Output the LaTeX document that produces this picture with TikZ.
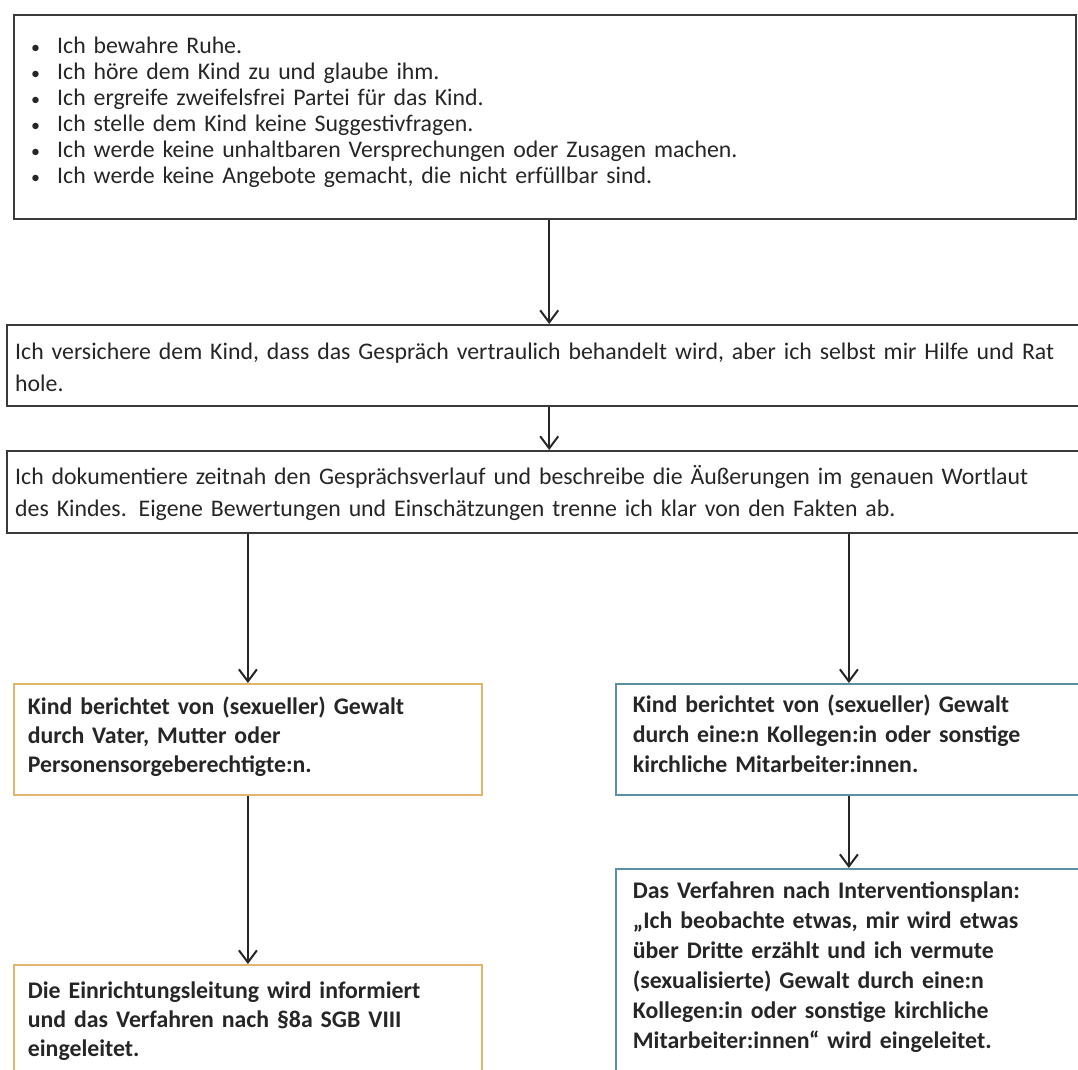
\documentclass[tikz,border=0pt]{standalone}
\usepackage{fontspec}
\setmainfont{Carlito}
\usepackage{xcolor}
\usetikzlibrary{arrows.meta}

\definecolor{framegray}{HTML}{3A3A3A}
\definecolor{inkgray}{HTML}{262626}
\definecolor{famorange}{HTML}{E2B56A}
\definecolor{staffteal}{HTML}{5C8FA0}

\begin{document}
\begin{tikzpicture}[
      x=0.5pt, y=-0.5pt,
      box/.style={draw=framegray, line width=1.2pt, fill=white, anchor=north west, align=left, inner ysep=0pt, text=inkgray},
      bullets/.style={box, font=\fontsize{11.9}{13}\selectfont, inner xsep=8.5pt, text width=514pt},
      plain/.style={box, font=\fontsize{11.9}{16}\selectfont, inner xsep=4pt, text width=534pt},
      family/.style={box, draw=famorange, line width=0.9pt, font=\fontsize{11.9}{14.5}\selectfont\bfseries, inner xsep=7pt, text width=220pt},
      staff/.style={box, draw=staffteal, line width=0.9pt, font=\fontsize{11.9}{15}\selectfont\bfseries, inner xsep=8.5pt, text width=216pt},
      arrow/.style={draw=inkgray, line width=1pt, -{Straight Barb[length=6pt, width=9pt]}}
    ]
    \path[use as bounding box, clip] (0,0) rectangle (1078,1070);
    \fill[white] (0,0) rectangle (1078,1070);

    % upper column
    \node[bullets, text height=19pt, text depth=83pt] (calm) at (13,14) {%
      \makebox[13pt][l]{\small\textbullet}Ich bewahre Ruhe.\\
      \makebox[13pt][l]{\small\textbullet}Ich höre dem Kind zu und glaube ihm.\\
      \makebox[13pt][l]{\small\textbullet}Ich ergreife zweifelsfrei Partei für das Kind.\\
      \makebox[13pt][l]{\small\textbullet}Ich stelle dem Kind keine Suggestivfragen.\\
      \makebox[13pt][l]{\small\textbullet}Ich werde keine unhaltbaren Versprechungen oder Zusagen machen.\\
      \makebox[13pt][l]{\small\textbullet}Ich werde keine Angebote gemacht, die nicht erfüllbar sind.};
    \node[plain, text height=17pt, text depth=23.5pt] (promise) at (6,324)
      {Ich versichere dem Kind, dass das Gespräch vertraulich behandelt wird, aber ich selbst mir Hilfe und Rat\\hole.};
    \node[plain, text height=16.5pt, text depth=24.5pt] (record) at (6,450)
      {Ich dokumentiere zeitnah den Gesprächsverlauf und beschreibe die Äußerungen im genauen Wortlaut\\des Kindes. Eigene Bewertungen und Einschätzungen trenne ich klar von den Fakten ab.};

    % two branches
    \node[family, text height=15.5pt, text depth=40pt] (family) at (13,683)
      {Kind berichtet von (sexueller) Gewalt\\durch Vater, Mutter oder\\Personensorgeberechtigte:n.};
    \node[family, text height=17pt, text depth=60pt] (leader) at (13,964)
      {Die Einrichtungsleitung wird informiert\\und das Verfahren nach §8a SGB VIII\\eingeleitet.};
    \node[staff, text height=14.5pt, text depth=41pt] (staff) at (615,683)
      {Kind berichtet von (sexueller) Gewalt\\durch eine:n Kollegen:in oder sonstige\\kirchliche Mitarbeiter:innen.};
    \node[staff, text height=15pt, text depth=100pt] (plan) at (615,868)
      {Das Verfahren nach Interventionsplan:\\„Ich beobachte etwas, mir wird etwas\\über Dritte erzählt und ich vermute\\(sexualisierte) Gewalt durch eine:n\\Kollegen:in oder sonstige kirchliche\\Mitarbeiter:innen“ wird eingeleitet.};

    \draw[arrow] (calm.south -| promise.north) -- (promise.north);
    \draw[arrow] (promise) -- (record);
    \draw[arrow] (record.south -| family.north) -- (family.north);
    \draw[arrow] (record.south -| staff.north) -- (staff.north);
    \draw[arrow] (family) -- (leader);
    \draw[arrow] (staff) -- (plan);
  \end{tikzpicture}
\end{document}
